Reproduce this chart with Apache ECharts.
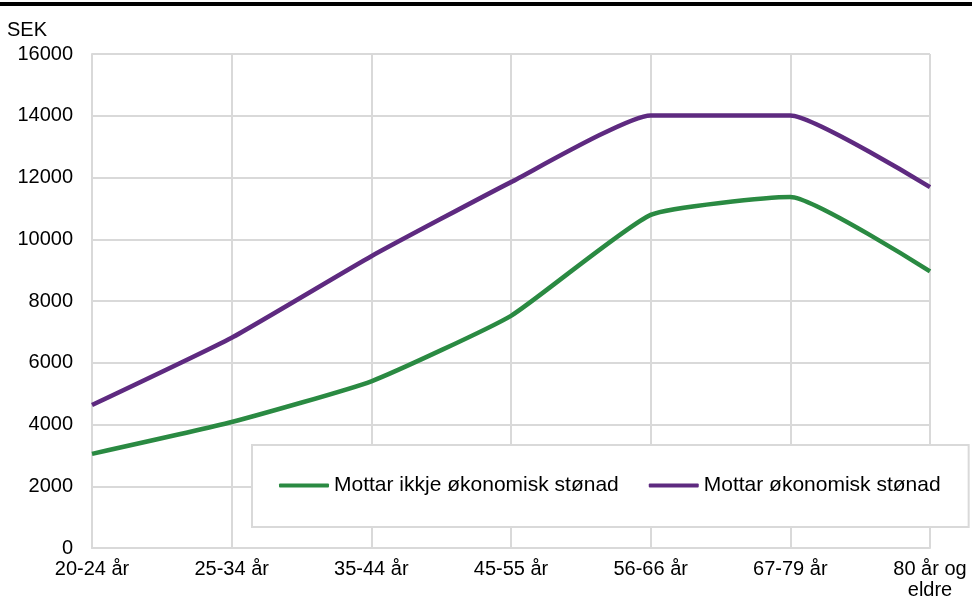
<!DOCTYPE html>
<html>
<head>
<meta charset="utf-8">
<script src="https://cdn.jsdelivr.net/npm/echarts@6/dist/echarts.min.js"></script>
<style>html,body{margin:0;padding:0;background:#fff}#c{width:972px;height:601px}</style>
</head>
<body>
<div id="c"></div>
<script>
var categories = ['20-24 år', '25-34 år', '35-44 år', '45-55 år', '56-66 år', '67-79 år', '80 år og\neldre'];
var ikkjeStonad = [3050, 4080, 5400, 7520, 10790, 11370, 8960];
var okStonad = [4630, 6810, 9450, 11850, 14010, 14010, 11690];
var seriesNames = ['Mottar ikkje økonomisk stønad', 'Mottar økonomisk stønad'];
var yTicks = { min: 0, max: 16000, interval: 2000 };
var unitLabel = 'SEK';

var chart = echarts.init(document.getElementById('c'));
var font = 'Liberation Sans, Arial, sans-serif';
var fs = 20;
chart.setOption({
  animation: false,
  backgroundColor: '#fff',
  textStyle: { fontFamily: font },
  graphic: [{
    type: 'rect', left: 0, top: 2, shape: { width: 972, height: 4 }, style: { fill: '#000' }
  }],
  grid: { left: 92, right: 42, top: 54, bottom: 48, containLabel: false },
  legend: {
    left: 252, top: 445,
    padding: [30, 28, 31, 27],
    backgroundColor: '#fff',
    borderColor: '#d9d9d9', borderWidth: 2,
    itemWidth: 50, itemHeight: 4, itemGap: 30,
    icon: 'roundRect',
    textStyle: { fontSize: 21, color: '#000', fontFamily: font },
    data: seriesNames
  },
  xAxis: {
    type: 'category', data: categories, boundaryGap: false,
    axisLine: { lineStyle: { color: '#d9d9d9', width: 2 } },
    axisTick: { show: false },
    axisLabel: { color: '#000', fontSize: fs, margin: 11, lineHeight: 21, interval: 0, fontFamily: font },
    splitLine: { show: true, lineStyle: { color: '#d9d9d9', width: 2 } }
  },
  yAxis: {
    type: 'value', min: yTicks.min, max: yTicks.max, interval: yTicks.interval,
    name: unitLabel, nameLocation: 'end', nameGap: 14,
    nameTextStyle: { color: '#000', fontSize: fs, align: 'right', padding: [0, 45, 0, 0], fontFamily: font },
    axisLine: { show: true, lineStyle: { color: '#d9d9d9', width: 2 } },
    axisTick: { show: false },
    axisLabel: { color: '#000', fontSize: fs, margin: 19, fontFamily: font, formatter: function (v) { return String(v); } },
    splitLine: { show: true, lineStyle: { color: '#d9d9d9', width: 2 } }
  },
  series: [{
    name: seriesNames[0], type: 'line', data: ikkjeStonad, smooth: 0.15,
    symbol: 'none', lineStyle: { color: '#2a8a42', width: 4.5 }, itemStyle: { color: '#2a8a42' }
  }, {
    name: seriesNames[1], type: 'line', data: okStonad, smooth: 0.15,
    symbol: 'none', lineStyle: { color: '#5e2a80', width: 4.5 }, itemStyle: { color: '#5e2a80' }
  }]
});
</script>
</body>
</html>
